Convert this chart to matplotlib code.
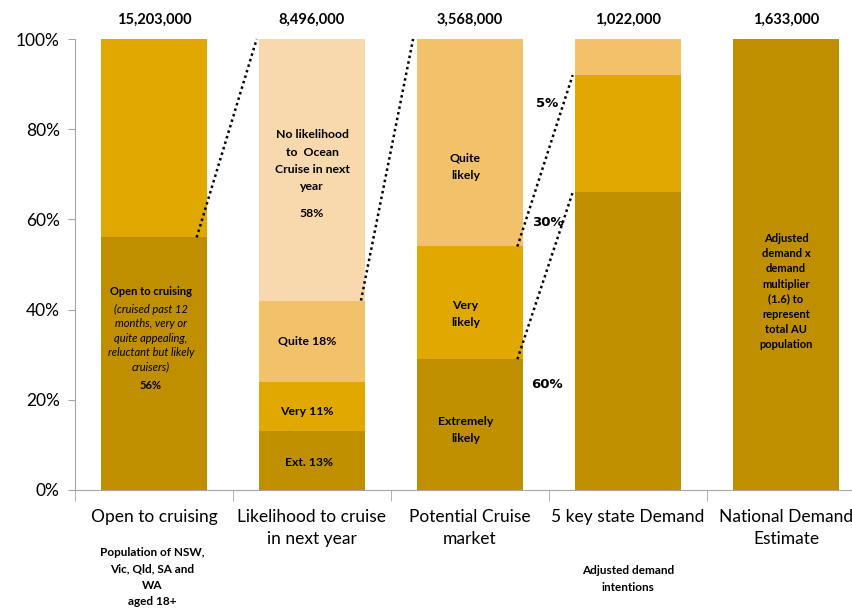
import matplotlib
matplotlib.use("Agg")
import matplotlib.pyplot as plt
import numpy as np

plt.rcParams['font.family'] = ['Lato', 'DejaVu Sans']

# stages of the demand funnel
categories = ["Open to cruising", "Likelihood to cruise\nin next year",
              "Potential Cruise\nmarket", "5 key state Demand",
              "National Demand\nEstimate"]
totals = ["15,203,000", "8,496,000", "3,568,000", "1,022,000", "1,633,000"]

# stacked shares per stage, bottom to top (percent)
open_share = [56, 44]
likelihood_share = [13, 11, 18, 58]
potential_share = [29, 25, 46]
state_share = [66, 26, 8]
national_share = [100]

conversion_labels = ["60%", "30%", "5%"]

c_dark = "#BF8F00"
c_gold = "#E0A800"
c_mid = "#F2C26B"
c_light = "#F8D9AE"

stacks = [
    (open_share, [c_dark, c_gold]),
    (likelihood_share, [c_dark, c_gold, c_mid, c_light]),
    (potential_share, [c_dark, c_gold, c_mid]),
    (state_share, [c_dark, c_gold, c_mid]),
    (national_share, [c_dark]),
]

fig = plt.figure(figsize=(8.53, 6.10), dpi=100)
ax = fig.add_axes([75 / 853, 1 - 490 / 610, 790 / 853, 451 / 610])

x = np.arange(len(categories))
w = 0.665
for i, (vals, cols) in enumerate(stacks):
    bottom = 0
    for v, c in zip(vals, cols):
        ax.bar(x[i], v / 100, w, bottom=bottom, color=c, edgecolor="none")
        bottom += v / 100
    ax.text(x[i], 1.042, totals[i], ha="center", va="center",
            fontsize=10.5, fontweight="bold", clip_on=False)

ax.set_xlim(-0.5, 4.5)
ax.set_ylim(0, 1)
ax.set_yticks(np.arange(0, 1.01, 0.2))
ax.set_yticklabels([f"{int(round(t * 100))}%" for t in np.arange(0, 1.01, 0.2)])
ax.set_xticks(x)
ax.set_xticklabels(categories, fontsize=12.5, linespacing=1.45)
ax.set_xticks(np.arange(-0.5, 4.6, 1), minor=True)
ax.tick_params(axis="x", which="major", length=0, pad=14)
ax.tick_params(axis="x", which="minor", length=8, color="#A6A6A6")
ax.tick_params(axis="y", labelsize=12.5, length=5, color="#A6A6A6", pad=6)
for s in ["top", "right"]:
    ax.spines[s].set_visible(False)
for s in ["left", "bottom"]:
    ax.spines[s].set_color("#A6A6A6")

txt = dict(ha="center", va="center", fontsize=8, fontweight="bold", linespacing=1.7)
txt9 = dict(txt, fontsize=8.8)

# open to cruising
cum_open = open_share[0] / 100
ax.text(-0.02, 0.44, "Open to cruising", **txt)
ax.text(-0.02, 0.337, "(cruised past 12\nmonths, very or\nquite appealing,\nreluctant but likely\ncruisers)",
        ha="center", va="center", fontsize=8, style="italic", linespacing=1.35)
ax.text(-0.02, 0.232, f"{open_share[0]}%", **txt)

# likelihood to cruise
ax.text(1.0, 0.73, "No likelihood\nto  Ocean\nCruise in next\nyear", **txt9)
ax.text(1.0, 0.614, f"{likelihood_share[3]}%", **txt9)
ax.text(0.97, 0.33, f"Quite {likelihood_share[2]}%", **txt9)
ax.text(0.97, 0.175, f"Very {likelihood_share[1]}%", **txt9)
ax.text(0.98, 0.062, f"Ext. {likelihood_share[0]}%", **txt9)

# potential market
ax.text(1.97, 0.716, "Quite\nlikely", **txt9)
ax.text(1.97, 0.39, "Very\nlikely", **txt9)
ax.text(1.97, 0.133, "Extremely\nlikely", **txt9)

# national estimate
ax.text(4.0, 0.44, "Adjusted\ndemand x\ndemand\nmultiplier\n(1.6) to\nrepresent\ntotal AU\npopulation",
        ha="center", va="center", fontsize=8, fontweight="bold", linespacing=1.45)

# conversion rates beside potential market
for lab, yy in zip(conversion_labels, [0.235, 0.594, 0.856]):
    ax.text(2.49, yy, lab, ha="center", va="center", fontsize=9.5,
            fontweight="bold", family="DejaVu Sans")

# dotted connectors between stages
cum_like = np.cumsum(likelihood_share) / 100
cum_pot = np.cumsum(potential_share) / 100
cum_state = np.cumsum(state_share) / 100
dots = dict(color="black", linestyle=(0, (1, 1.3)), linewidth=1.8, clip_on=False)
ax.plot([0.27, 0.65], [cum_open, 1.0], **dots)
ax.plot([1.31, 1.64], [cum_like[2], 1.0], **dots)
ax.plot([2.30, 2.65], [cum_pot[1], cum_state[1]], **dots)
ax.plot([2.30, 2.65], [cum_pot[0], cum_state[0]], **dots)

# notes under the axis
fig.text(152 / 853, 1 - 577 / 610, "Population of NSW,\nVic, Qld, SA and\nWA\naged 18+",
         ha="center", va="center", fontsize=8.5, fontweight="bold", linespacing=1.6)
fig.text(628 / 853, 1 - 579 / 610, "Adjusted demand\nintentions",
         ha="center", va="center", fontsize=8.5, fontweight="bold", linespacing=1.6)

fig.savefig("out.png", dpi=100)
